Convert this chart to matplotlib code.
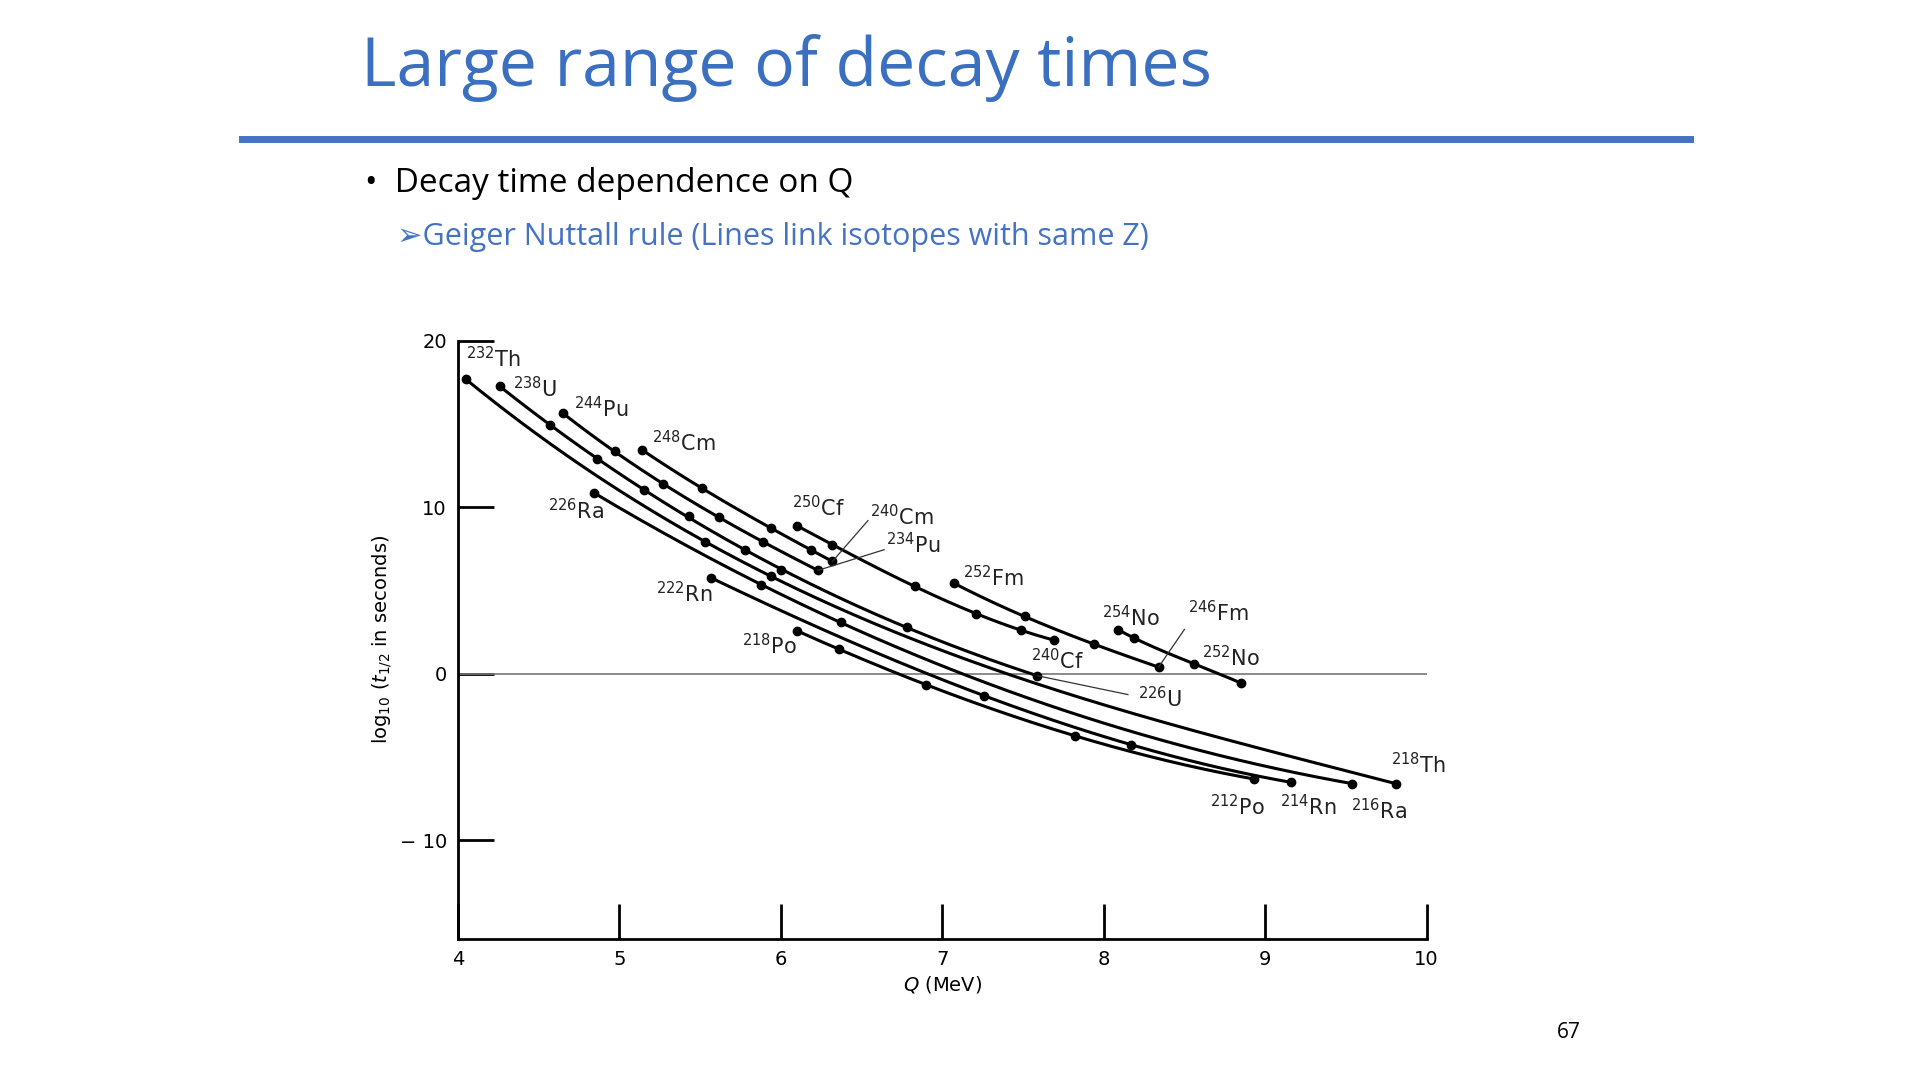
import numpy as np
import matplotlib.pyplot as plt

# Q (MeV) and log10(t1/2), one pair of arrays per element
th_q = [4.05, 5.53, 5.94, 9.81]
th_t = [17.68, 7.94, 5.85, -6.6]
u_q = [4.26, 4.57, 4.86, 5.15, 5.43, 5.78, 6.0, 6.78, 7.59]
u_t = [17.28, 14.92, 12.92, 11.05, 9.45, 7.45, 6.25, 2.78, -0.12]
pu_q = [4.65, 4.97, 5.27, 5.62, 5.89, 6.23]
pu_t = [15.65, 13.35, 11.41, 9.39, 7.91, 6.21]
cm_q = [5.14, 5.51, 5.94, 6.19, 6.32]
cm_t = [13.45, 11.15, 8.75, 7.41, 6.75]
cf_q = [6.10, 6.32, 6.83, 7.21, 7.49, 7.69]
cf_t = [8.89, 7.75, 5.25, 3.6, 2.62, 2.02]
fm_q = [7.07, 7.51, 7.94, 8.34]
fm_t = [5.45, 3.44, 1.78, 0.4]
no_q = [8.09, 8.19, 8.56, 8.85]
no_t = [2.64, 2.14, 0.6, -0.56]
ra_q = [4.84, 5.88, 6.37, 9.54]
ra_t = [10.88, 5.35, 3.08, -6.6]
rn_q = [5.57, 7.26, 8.17, 9.16]
rn_t = [5.75, -1.32, -4.26, -6.52]
po_q = [6.10, 6.36, 6.90, 7.82, 8.93]
po_t = [2.58, 1.48, -0.66, -3.72, -6.32]

series = [(th_q, th_t), (u_q, u_t), (pu_q, pu_t), (cm_q, cm_t), (cf_q, cf_t),
          (fm_q, fm_t), (no_q, no_t), (ra_q, ra_t), (rn_q, rn_t), (po_q, po_t)]

# isotope labels: mass, element, Q, log t
labels = [("232", "Th", 4.05, 18.9), ("238", "U", 4.34, 17.1), ("244", "Pu", 4.72, 15.9),
          ("248", "Cm", 5.2, 13.9), ("226", "Ra", 4.56, 9.8), ("250", "Cf", 6.07, 10.0),
          ("240", "Cm", 6.55, 9.45), ("234", "Pu", 6.65, 7.75), ("252", "Fm", 7.13, 5.8),
          ("222", "Rn", 5.23, 4.8), ("218", "Po", 5.76, 1.7), ("254", "No", 7.99, 3.4),
          ("246", "Fm", 8.52, 3.7), ("252", "No", 8.61, 0.96), ("240", "Cf", 7.55, 0.8),
          ("226", "U", 8.21, -1.5), ("218", "Th", 9.78, -5.46), ("212", "Po", 8.66, -8.0),
          ("214", "Rn", 9.09, -8.0), ("216", "Ra", 9.53, -8.2)]
# leader lines: from label to end point
leaders = [((6.54, 9.2), (6.32, 6.75)), ((6.64, 7.45), (6.23, 6.21)),
           ((8.5, 2.66), (8.34, 0.4)), ((8.15, -1.25), (7.59, -0.12))]

fig = plt.figure(figsize=(19.2, 10.8), dpi=100)
blue = "#3B6FC0"
fig.text(0.188, 0.937, "Large range of decay times", color=blue, fontsize=49,
         fontfamily="Open Sans", va="center")
fig.add_artist(plt.Line2D([0.126, 0.88], [0.871, 0.871], color="#4472C4", lw=5))
fig.text(0.19, 0.83, "•  Decay time dependence on Q", fontsize=24,
         fontfamily="Open Sans", va="center")
fig.text(0.207, 0.781, "➢Geiger Nuttall rule (Lines link isotopes with same Z)", color="#4472C4",
         fontsize=22, fontfamily=["Open Sans", "DejaVu Sans"], va="center")
fig.text(0.817, 0.044, "67", fontsize=15, fontfamily="Open Sans", va="center", ha="center")

ax = fig.add_axes([0.2385, 0.131, 0.5045, 0.5535])
ax.set_xlim(4, 10)
ax.set_ylim(-15.9, 20)
ax.axhline(0, color="#777777", lw=1.2)

for q, t in series:
    q = np.array(q)
    t = np.array(t)
    deg = min(3, len(q) - 1)
    c = np.polyfit(q, t, deg)
    qq = np.linspace(q[0], q[-1], 200)
    ax.plot(qq, np.polyval(c, qq), color="black", lw=2.2, clip_on=False)
    ax.plot(q, t, "o", color="black", ms=6, clip_on=False)

for mass, el, q, t in labels:
    ax.text(q, t, r"$^{%s}$%s" % (mass, el), fontsize=15, va="center", ha="left",
            color="#222222", clip_on=False)
for (x0, y0), (x1, y1) in leaders:
    ax.plot([x0, x1], [y0, y1], color="#333333", lw=0.9)

for s in ["top", "right"]:
    ax.spines[s].set_visible(False)
ax.spines["left"].set_bounds(-15.9, 20)
ax.spines["left"].set_linewidth(2)
ax.spines["bottom"].set_linewidth(2)
ax.set_xticks([4, 5, 6, 7, 8, 9, 10])
ax.set_yticks([-10, 0, 10, 20])
ax.set_yticklabels(["\u2212 10", "0", "10", "20"])
ax.tick_params(axis="x", direction="in", length=25, width=2, labelsize=14, pad=8)
ax.tick_params(axis="y", direction="in", length=26, width=2, labelsize=14, pad=8)
ax.set_xlabel(r"$Q$ (MeV)", fontsize=14)
ax.set_ylabel(r"log$_{10}$ ($t_{1/2}$ in seconds)", fontsize=14)

fig.savefig("out.png")
